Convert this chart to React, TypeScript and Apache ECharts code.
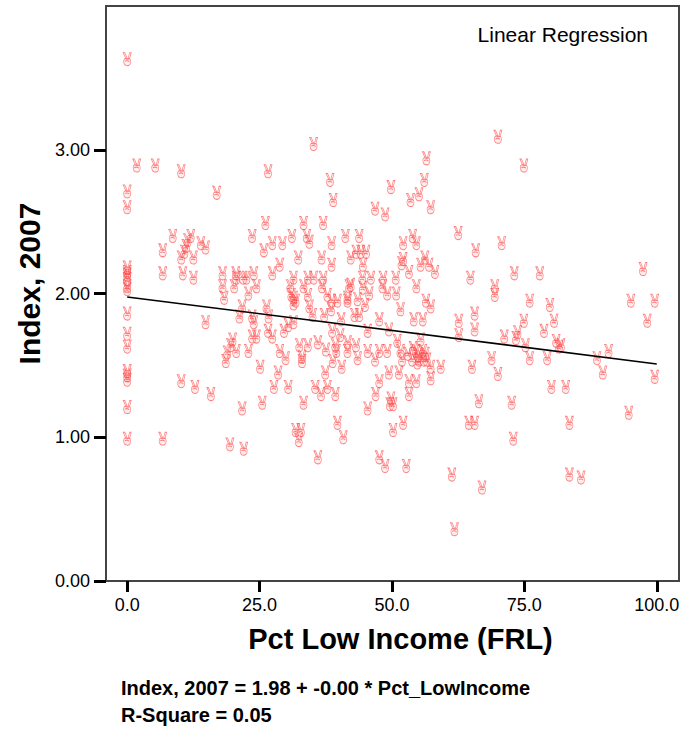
import { useEffect, useRef } from 'react'
import * as echarts from 'echarts'

// Pct Low Income (FRL) and Index, 2007 for each school
const pctLowIncome = [
  0, 0, 0, 0, 0, 0, 0, 0, 0, 0, 0, 0, 0, 0, 0, 0, 0,
  1.8, 5.3, 10.2, 26.6, 16.9,
  26.1, 8.6, 11.4, 12.0, 11.1, 13.9, 14.8, 6.7, 10.8, 10.2, 12.5, 23.6, 27.4, 29.3, 31.1, 25.8, 32.3, 28.8,
  6.7, 10.5, 12.5, 18.0, 20.5, 20.6, 21.9, 22.5, 23.9, 27.4, 31.4, 18.0, 20.2, 24.4, 30.8, 18.3, 22.9, 31.4, 31.0, 31.8, 31.4, 21.7, 26.3,
  14.8, 21.2, 23.6, 26.7, 23.9, 23.6, 24.4, 26.6, 27.4, 29.6, 30.4, 31.4, 19.9, 19.5, 18.9, 20.6, 22.9, 18.6, 28.8, 29.9, 25.1, 28.5,
  10.2, 12.8, 15.8, 27.7, 30.4, 25.5, 21.7, 6.7, 19.4, 22.0, 31.8, 32.4,
  35.2, 56.5, 70.0, 38.3, 56.1, 49.8, 55.1, 53.5, 38.9, 46.8, 48.7, 57.3, 33.3, 37.0, 62.5, 33.9, 34.4, 41.2, 43.8, 38.6,
  43.2, 44.1, 45.1, 52.1, 53.9, 54.6, 65.8, 36.7, 38.6, 42.2, 44.5, 51.8, 52.1, 53.2, 55.4, 56.2, 57.0, 58.1,
  33.3, 34.1, 35.2, 37.0, 36.8, 34.1, 37.8, 38.6, 39.7, 41.9, 42.2, 41.6, 43.5, 44.4, 44.5, 46.0, 45.7, 44.9,
  48.3, 50.7, 48.2, 49.1, 50.8, 54.6, 56.4, 57.3, 51.6, 41.6, 64.8, 69.4, 69.4, 65.6, 62.6,
  34.4, 35.0, 37.2, 38.5, 42.9, 43.8, 54.1, 55.8, 47.6, 40.4,
  65.6, 38.7, 45.4, 49.4, 40.2, 62.6, 34.1, 36.0, 37.5, 39.3, 39.5, 41.6, 41.6, 43.2, 43.5, 45.4, 47.6, 49.1, 46.8,
  51.0, 51.6, 51.9, 53.8, 54.5, 55.4, 55.1, 56.0, 55.8, 57.3, 57.3, 56.6, 59.2, 65.1, 68.8, 70.0,
  33.0, 33.0, 32.5, 38.8, 40.5, 37.4, 49.4, 51.3, 47.6, 53.2, 54.6, 35.5, 37.8, 36.6, 39.3, 46.9, 53.2,
  33.3, 49.8, 49.6, 50.2, 66.4, 45.4, 39.7, 52.1, 50.2, 64.5, 65.6, 32.8, 40.8, 36.0, 47.6, 48.7, 52.7, 61.3, 67.0, 61.8,
  53.0, 54.0, 55.0, 56.3, 54.8,
  74.9, 70.7, 73.1, 77.9, 97.4, 76.0, 79.8, 95.1, 99.6, 74.9, 80.6, 98.2,
  73.7, 73.4, 71.2, 78.7, 75.2, 81.0, 81.9, 81.5, 90.9, 76.0, 79.3, 88.7, 89.8, 99.6, 80.1, 82.8, 72.6, 94.7, 83.5, 72.9, 83.5, 85.7,
]

const index2007 = [
  3.63, 2.71, 2.60, 2.18, 2.15, 2.13, 2.10, 2.05, 2.03, 1.86, 1.72, 1.63, 1.46, 1.43, 1.40, 1.21, 0.99,
  2.89, 2.89, 2.85, 2.85, 2.70,
  2.49, 2.40, 2.37, 2.40, 2.33, 2.35, 2.32, 2.30, 2.29, 2.25, 2.25, 2.40, 2.35, 2.35, 2.40, 2.30, 2.25, 2.20,
  2.14, 2.14, 2.11, 2.14, 2.14, 2.11, 2.11, 2.11, 2.14, 2.14, 2.11, 2.05, 2.05, 2.05, 2.05, 1.97, 2.00, 1.97, 1.99, 1.95, 1.93, 1.91, 1.91,
  1.80, 1.84, 1.84, 1.84, 1.80, 1.70, 1.70, 1.74, 1.70, 1.74, 1.78, 1.80, 1.68, 1.64, 1.59, 1.60, 1.60, 1.53, 1.60, 1.55, 1.49, 1.45,
  1.39, 1.35, 1.30, 1.35, 1.35, 1.24, 1.20, 0.99, 0.95, 0.92, 1.05, 0.98,
  3.04, 2.94, 3.09, 2.79, 2.79, 2.74, 2.69, 2.65, 2.65, 2.59, 2.55, 2.60, 2.49, 2.49, 2.42, 2.40, 2.36, 2.40, 2.40, 2.35,
  2.29, 2.29, 2.29, 2.35, 2.40, 2.35, 2.30, 2.25, 2.20, 2.25, 2.20, 2.21, 2.24, 2.15, 2.20, 2.25, 2.20, 2.15,
  2.05, 2.11, 2.11, 2.11, 2.05, 1.99, 1.99, 1.95, 1.95, 2.05, 2.06, 1.97, 1.96, 2.11, 2.04, 2.11, 2.00, 1.92,
  2.11, 2.11, 2.05, 2.00, 2.00, 2.05, 1.95, 1.91, 1.89, 1.95, 2.11, 2.05, 1.99, 1.86, 1.81,
  1.91, 1.85, 1.85, 1.89, 1.85, 1.85, 1.82, 1.82, 1.82, 1.82,
  1.75, 1.74, 1.74, 1.75, 1.71, 1.71, 1.64, 1.66, 1.61, 1.64, 1.60, 1.66, 1.60, 1.64, 1.55, 1.60, 1.60, 1.60, 1.54,
  1.67, 1.60, 1.54, 1.54, 1.60, 1.68, 1.54, 1.54, 1.60, 1.49, 1.41, 1.54, 1.49, 1.49, 1.55, 1.44,
  1.56, 1.53, 1.64, 1.53, 1.49, 1.45, 1.45, 1.45, 1.39, 1.39, 1.39, 1.35, 1.35, 1.30, 1.30, 1.30, 1.30,
  1.24, 1.27, 1.23, 1.23, 1.25, 1.20, 1.10, 1.10, 1.05, 1.10, 1.10, 1.05, 1.00, 0.86, 0.86, 0.80, 0.80, 0.74, 0.65, 0.36,
  1.58, 1.62, 1.57, 1.58, 1.52,
  2.89, 2.35, 2.14, 2.14, 2.17, 1.95, 1.92, 1.95, 1.95, 1.81, 1.81, 1.81,
  1.73, 1.69, 1.70, 1.74, 1.64, 1.67, 1.64, 1.63, 1.60, 1.55, 1.55, 1.55, 1.45, 1.42, 1.35, 1.35, 1.24, 1.17, 1.10, 0.99, 0.74, 0.72,
]

// fitted line: Index, 2007 = 1.98 + -0.00 * Pct_LowIncome
const fitX = [0, 100]
const fitY = [1.976, 1.51]

const xTicks = [0, 25, 50, 75, 100]
const yTicks = [0, 1, 2, 3]

const chartTitle = 'Linear Regression'
const xTitle = 'Pct Low Income (FRL)'
const yTitle = 'Index, 2007'
const equationText = 'Index, 2007 = 1.98 + -0.00 * Pct_LowIncome'
const rSquareText = 'R-Square = 0.05'

// victory-hand marker, like the SPSS glyph
const handSymbol =
  'path://M1,0 L2.6,0 L5,7 L3.6,7 Z M7.2,0 L8.8,0 L7.2,7.5 L5.8,7.2 Z ' +
  'M3,7 C0.6,7.5 0.8,15.8 5,15.8 C9,15.8 9,8 7,7.2 C6,8 4.5,8.2 3,7 Z M2.5,10.5 C4,9.5 6,10 7,11'

const FONT = '"Liberation Sans", Arial, sans-serif'

export default function App() {
  const chartRef = useRef<HTMLDivElement>(null)

  useEffect(() => {
    if (!chartRef.current) return
    const chart = echarts.init(chartRef.current, null, { renderer: 'svg' })

    const points = pctLowIncome.map((x, i) => [x, index2007[i]])
    const fitLine = fitX.map((x, i) => [x, fitY[i]])

    const option: echarts.EChartsOption = {
      animation: false,
      backgroundColor: '#fff',
      title: {
        text: chartTitle,
        right: 36,
        top: 24,
        padding: 0,
        textStyle: { fontFamily: FONT, fontSize: 21, fontWeight: 'normal', color: '#000' }
      },
      grid: {
        left: 106,
        right: 5,
        top: 6,
        bottom: 148,
        show: true,
        borderColor: '#444',
        borderWidth: 2,
        backgroundColor: '#fff'
      },
      xAxis: {
        type: 'value',
        min: -4,
        max: 104.2,
        name: xTitle,
        nameLocation: 'middle',
        nameGap: 43,
        nameTextStyle: {
          fontFamily: FONT,
          fontSize: 29,
          fontWeight: 'bold',
          color: '#000',
          padding: [0, 0, 0, 16]
        },
        axisLine: { show: false, onZero: false },
        splitLine: { show: false },
        axisTick: {
          show: true,
          length: 11,
          customValues: xTicks,
          lineStyle: { color: '#000', width: 3 }
        },
        axisLabel: {
          customValues: xTicks,
          margin: 15,
          fontFamily: FONT,
          fontSize: 18,
          color: '#000',
          formatter: (v: number) => v.toFixed(1)
        }
      },
      yAxis: {
        type: 'value',
        min: 0,
        max: 4,
        name: yTitle,
        nameLocation: 'middle',
        nameGap: 62,
        nameTextStyle: {
          fontFamily: FONT,
          fontSize: 30,
          fontWeight: 'bold',
          color: '#000',
          padding: [0, 0, 0, 20]
        },
        axisLine: { show: false, onZero: false },
        splitLine: { show: false },
        axisTick: {
          show: true,
          length: 12,
          customValues: yTicks,
          lineStyle: { color: '#000', width: 3 }
        },
        axisLabel: {
          customValues: yTicks,
          margin: 16,
          fontFamily: FONT,
          fontSize: 18,
          color: '#000',
          formatter: (v: number) => v.toFixed(2)
        }
      },
      graphic: [
        {
          type: 'text',
          left: 121,
          top: 678,
          style: { text: equationText, font: `bold 20px ${FONT}`, fill: '#000' }
        },
        {
          type: 'text',
          left: 121,
          top: 705,
          style: { text: rSquareText, font: `bold 20px ${FONT}`, fill: '#000' }
        }
      ],
      series: [
        {
          name: 'Index, 2007',
          type: 'scatter',
          data: points,
          symbol: handSymbol,
          symbolSize: [8, 13],
          itemStyle: {
            color: 'rgba(255,140,140,0.18)',
            borderColor: 'rgba(255,60,60,0.8)',
            borderWidth: 0.8
          }
        },
        {
          name: 'Linear Regression',
          type: 'line',
          data: fitLine,
          showSymbol: false,
          symbol: 'none',
          lineStyle: { color: '#000', width: 1.6 },
          z: 5
        }
      ]
    }

    chart.setOption(option)

    return () => {
      chart.dispose()
    }
  }, [])

  return (
    <div
      ref={chartRef}
      style={{ position: 'absolute', left: 0, top: 0, width: 684, height: 729 }}
    />
  )
}
